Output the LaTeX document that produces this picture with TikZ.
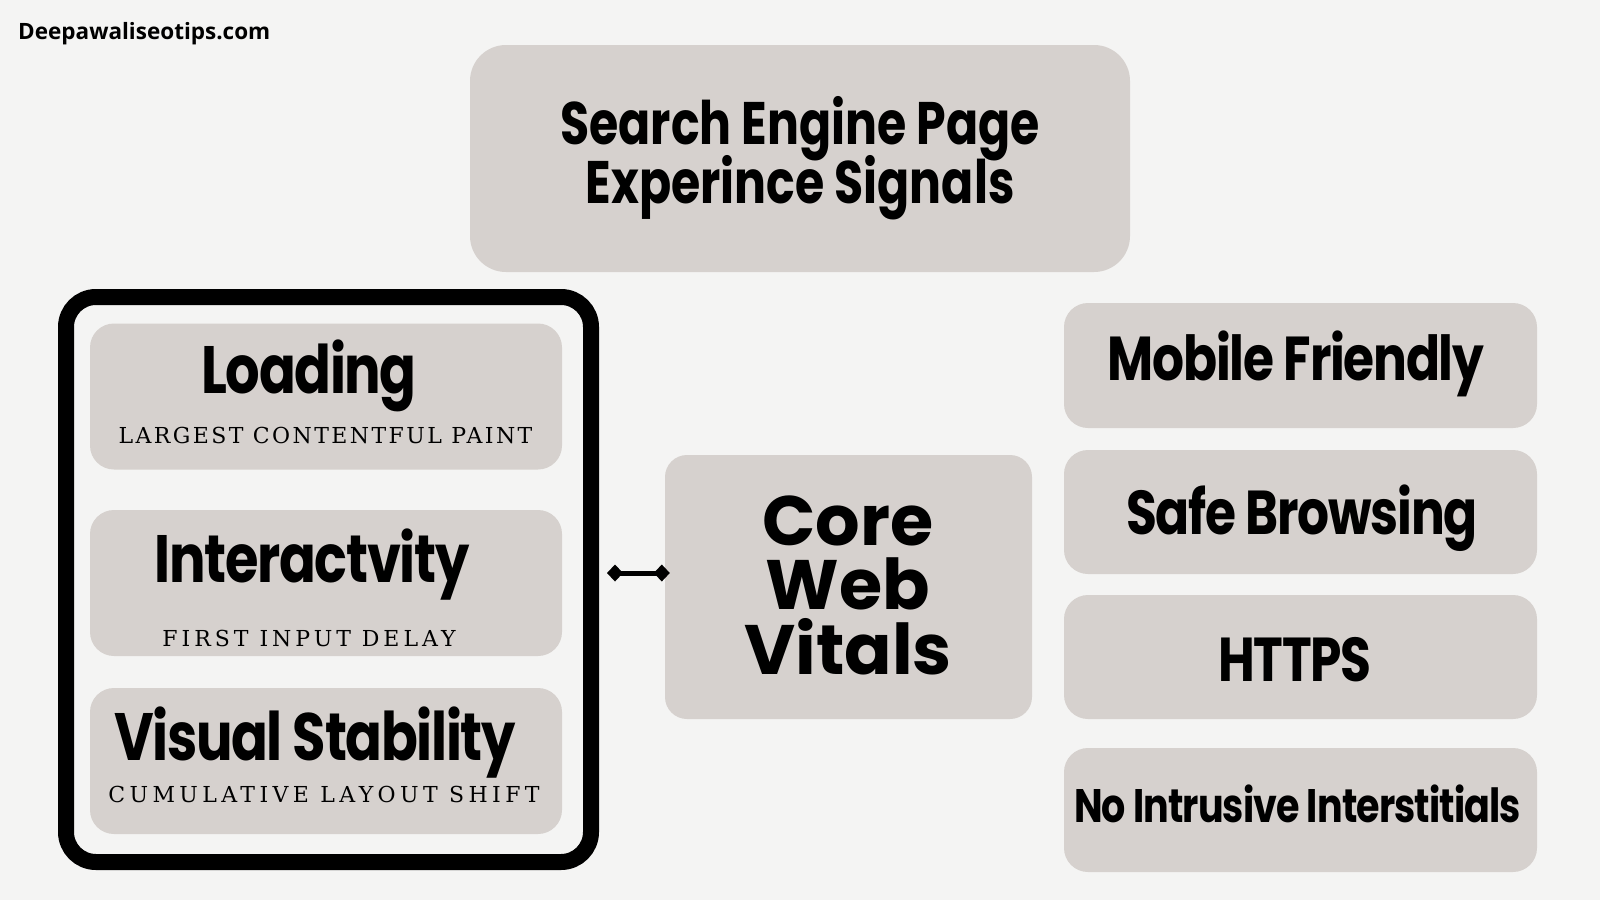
\documentclass[tikz,border=0pt]{standalone}
\usepackage{fontspec}
\setmainfont{Open Sans}
\newfontfamily\titlefont[FakeStretch=0.79]{Poppins Bold}
\newfontfamily\headfont[FakeStretch=0.81, LetterSpace=-2]{Poppins Bold}
\newfontfamily\corefont{Poppins Bold}
\newfontfamily\subfont[LetterSpace=11]{DejaVu Serif}
\usepackage{tikz}
\usetikzlibrary{positioning}
\usetikzlibrary{arrows.meta}
\usepackage{xcolor}
\definecolor{paper}{HTML}{F4F4F3}
\definecolor{cardgray}{HTML}{D6D1CE}
\newcommand\tightlines{\lineskiplimit=-100pt\relax}

\begin{document}
\begin{tikzpicture}[x=1pt, y=-1pt,
  card/.style={fill=cardgray, rounded corners=24pt, inner sep=0pt},
  wide card/.style={card, minimum width=472pt, minimum height=146pt},
  side card/.style={card, minimum width=473pt, minimum height=124pt},
  head/.style={anchor=base, inner sep=0pt, font=\headfont\fontsize{67}{67}\selectfont},
  side head/.style={anchor=base, inner sep=0pt, font=\headfont\fontsize{62}{62}\selectfont},
  sub/.style={anchor=base, inner sep=0pt, font=\subfont\fontsize{22}{22}\selectfont}]
  \fill[paper] (0,0) rectangle (1600,900);
  \useasboundingbox (0,0) rectangle (1600,900);
  \node[anchor=base west, inner sep=0pt, font=\bfseries\fontsize{22.5}{22.5}\selectfont] (site) at (18,39) {Deepawaliseotips.com};

  \node[card, rounded corners=36pt, minimum width=660pt, minimum height=227pt] (title) at (800,158.5) {};
  \node[anchor=base, align=center, inner sep=0pt, font=\titlefont\fontsize{60}{46}\selectfont\tightlines] (titletext) at (800,203) {Search Engine Page\\[13pt]Experince Signals};

  \node[draw, line width=16pt, rounded corners=30pt, minimum width=525pt, minimum height=565pt, inner sep=0pt] (frame) at (328.5,579.5) {};
  \node[wide card] (load) at (326,396.5) {};
  \node[wide card] (inter) at (326,583) {};
  \node[wide card] (visual) at (326,761) {};
  \node[head] (loadhead) at (309,393) {Loading};
  \node[sub] (loadsub) at (325.5,443) {LARGEST CONTENTFUL PAINT};
  \node[head] (interhead) at (312,582) {Interactvity};
  \node[sub] (intersub) at (309,646) {\addfontfeature{LetterSpace=18}FIRST INPUT DELAY};
  \node[head] (visualhead) at (315,760) {Visual Stability};
  \node[sub] (visualsub) at (324,802) {\addfontfeature{LetterSpace=20}CUMULATIVE LAYOUT SHIFT};

  \node[card, rounded corners=22pt, minimum width=367pt, minimum height=264pt] (core) at (848.5,587) {};
  \node[anchor=base, align=center, inner sep=0pt, font=\corefont\fontsize{70}{64.5}\selectfont\tightlines] (coretext) at (848,674) {Core\\Web\\Vitals};
  \draw[line width=5pt, {Diamond[length=16pt,width=17pt]}-{Diamond[length=16pt,width=17pt]}] ([xshift=8pt]frame.east |- 0,573) -- ([xshift=5pt]core.west |- 0,573);

  \node[side card, minimum height=125pt] (mobile) at (1300.5,365.5) {};
  \node[side card] (safe) at (1300.5,512) {};
  \node[side card] (https) at (1300.5,657) {};
  \node[side card] (nointr) at (1300.5,810) {};
  \node[side head] (mobiletext) at (1296,380) {Mobile Friendly};
  \node[side head] (safetext) at (1302,534) {Safe Browsing};
  \node[side head] (httpstext) at (1295,681) {HTTPS};
  \node[side head, font=\headfont\fontsize{47}{47}\selectfont] (nointrtext) at (1297.5,822) {No Intrusive Interstitials};
\end{tikzpicture}
\end{document}
